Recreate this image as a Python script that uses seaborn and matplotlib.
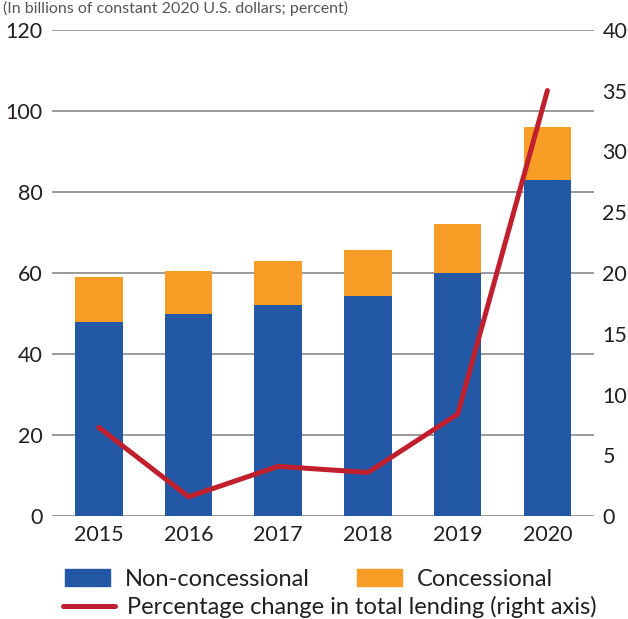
import matplotlib
matplotlib.use('Agg')
import matplotlib.pyplot as plt
import matplotlib.patches as mpatches
import matplotlib.lines as mlines
import pandas as pd
import seaborn as sns

# ── Data ──────────────────────────────────────────────────────────────
years          = ['2015', '2016', '2017', '2018', '2019', '2020']
non_concess    = [48.0, 50.0, 52.0, 54.3, 60.0, 83.0]
concessional   = [11.0, 10.5, 11.0, 11.4, 12.0, 13.0]
pct_change     = [7.3, 1.6, 4.1, 3.6, 8.4, 35.0]

BLUE   = '#2258a5'
ORANGE = '#f79d25'
RED    = '#c0202e'
GRID   = '#9a9a9a'
TXT    = '#231f20'

df = pd.DataFrame({
    'year': years,
    'non': non_concess,
    'total': [a + b for a, b in zip(non_concess, concessional)],
    'pct': pct_change,
})

sns.set_theme(style='white')
plt.rcParams['font.family'] = ['Lato', 'DejaVu Sans']

fig = plt.figure(figsize=(6.28, 6.19), dpi=100)
ax = fig.add_axes([0.083, 0.166, 0.863, 0.786])

# stacked bars: total (orange) behind, non-concessional (blue) in front
sns.barplot(data=df, x='year', y='total', color=ORANGE, width=0.53,
            saturation=1, linewidth=0, ax=ax, zorder=3)
sns.barplot(data=df, x='year', y='non', color=BLUE, width=0.53,
            saturation=1, linewidth=0, ax=ax, zorder=3)

ax.set_ylim(0, 120)
ax.set_yticks(range(0, 121, 20))
ax.set_xlim(-0.52, 5.52)
ax.set_xlabel('')
ax.set_ylabel('')
ax.yaxis.grid(True, color=GRID, lw=1.4, zorder=0)
ax.set_axisbelow(True)
for s in ax.spines.values():
    s.set_visible(False)
ax.tick_params(axis='both', length=0, labelsize=15.5, colors=TXT, pad=6)
ax.tick_params(axis='y', pad=7)

# right axis: percentage change line
ax2 = ax.twinx()
sns.lineplot(data=df, x='year', y='pct', color=RED, lw=3.6, ax=ax2,
             solid_capstyle='round')
ax2.set_ylim(0, 40)
ax2.set_yticks(range(0, 41, 5))
ax2.set_ylabel('')
for s in ax2.spines.values():
    s.set_visible(False)
ax2.tick_params(axis='y', length=0, labelsize=15.5, colors=TXT, pad=6)

# subtitle line at the very top
fig.text(0.005, 0.999, '(In billions of constant 2020 U.S. dollars; percent)',
         fontsize=11.5, color='#555555', ha='left', va='top')

# legends
h_non = mpatches.Patch(color=BLUE, label='Non-concessional')
h_con = mpatches.Patch(color=ORANGE, label='Concessional')
h_pct = mlines.Line2D([], [], color=RED, lw=3.6, solid_capstyle='round',
                      label='Percentage change in total lending (right axis)')
leg1 = fig.legend(handles=[h_non, h_con], loc='center left',
                  bbox_to_anchor=(0.103, 0.064), ncol=2, frameon=False,
                  fontsize=17, handlelength=1.9, handleheight=0.75,
                  handletextpad=0.65, columnspacing=2.0, labelcolor=TXT,
                  borderaxespad=0, borderpad=0)
leg2 = fig.legend(handles=[h_pct], loc='center left',
                  bbox_to_anchor=(0.1, 0.019), frameon=False,
                  fontsize=17, handlelength=2.2, handletextpad=0.5,
                  labelcolor=TXT, borderaxespad=0, borderpad=0)

fig.savefig('out.png', dpi=100)
